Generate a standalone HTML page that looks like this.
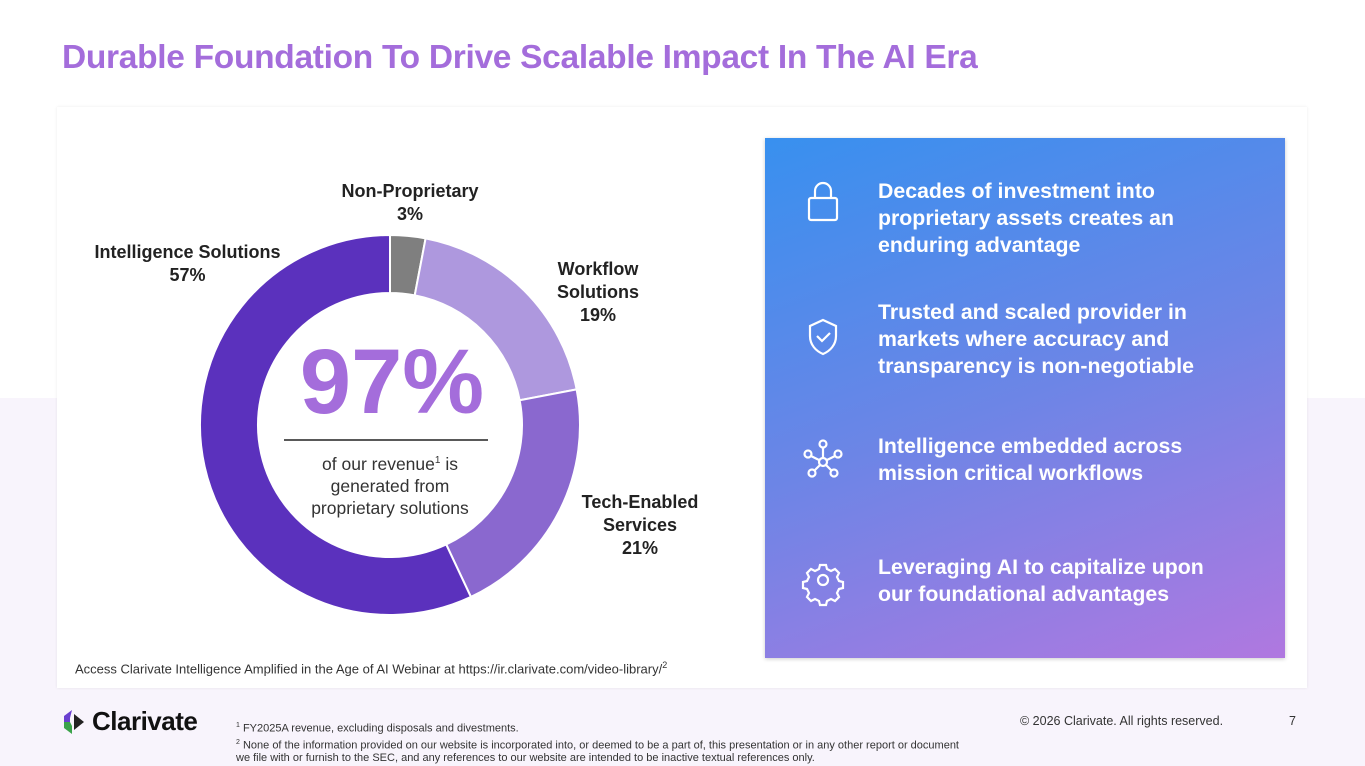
<!DOCTYPE html>
<html><head><meta charset="utf-8">
<style>
*{margin:0;padding:0;box-sizing:border-box}
body{width:1365px;height:766px;position:relative;overflow:hidden;font-family:"Liberation Sans",sans-serif;background:#fff}
.abs{position:absolute}
.bg2{left:0;top:398px;width:1365px;height:368px;background:#f8f4fc}
.title{left:62px;top:39px;font-size:33.5px;font-weight:bold;color:#a46ddb;letter-spacing:-0.3px}
.card{left:57px;top:107px;width:1250px;height:581px;background:#fff;box-shadow:0 0 3px rgba(0,0,0,0.08)}
.lbl{font-weight:bold;font-size:18px;color:#222;text-align:center;line-height:23px}
.panel{left:765px;top:138px;width:520px;height:520px;background:linear-gradient(160deg,#3890ef 0%,#6d85e6 50%,#b078e0 100%);box-shadow:0 1px 4px rgba(0,0,0,0.2)}
.pt{left:878px;color:#fff;font-size:21.3px;font-weight:bold;line-height:27px}
.foot{font-size:11px;color:#333;line-height:13px}
</style></head><body>
<div class="abs bg2"></div>
<div class="abs title">Durable Foundation To Drive Scalable Impact In The AI Era</div>
<div class="abs card"></div>

<svg class="abs" style="left:0;top:0" width="700" height="700">
<g id="slices"></g>
<line x1="284" y1="440" x2="488" y2="440" stroke="#222" stroke-width="1.5"/>
<text x="392" y="413" text-anchor="middle" font-size="92" font-weight="bold" fill="#a46ddb" font-family="Liberation Sans">97%</text>
<text x="390" y="470" text-anchor="middle" font-size="17.5" fill="#333" font-family="Liberation Sans">of our revenue<tspan font-size="10" dy="-7">1</tspan><tspan dy="7"> is</tspan></text>
<text x="390" y="492" text-anchor="middle" font-size="17.5" fill="#333" font-family="Liberation Sans">generated from</text>
<text x="390" y="514" text-anchor="middle" font-size="17.5" fill="#333" font-family="Liberation Sans">proprietary solutions</text>
</svg>
<div class="abs lbl" style="left:320px;top:180px;width:180px">Non-Proprietary<br>3%</div>
<div class="abs lbl" style="left:538px;top:258px;width:120px">Workflow<br>Solutions<br>19%</div>
<div class="abs lbl" style="left:565px;top:491px;width:150px">Tech-Enabled<br>Services<br>21%</div>
<div class="abs lbl" style="left:80px;top:241px;width:215px">Intelligence Solutions<br>57%</div>
<div class="abs" style="left:75px;top:660px;font-size:13px;color:#333">Access Clarivate Intelligence Amplified in the Age of AI Webinar at https://ir.clarivate.com/video-library/<sup style="font-size:9px">2</sup></div>

<div class="abs panel"></div>
<svg class="abs" style="left:795px;top:170px" width="60" height="440" fill="none" stroke="#fff" stroke-width="2.2">
<g><rect x="14" y="28" width="28" height="22" rx="2"/><path d="M20 28v-7a8 8 0 0 1 16 0v7"/></g>
<g><path d="M28 150l13 6v10c0 9-6 15-13 18c-7-3-13-9-13-18v-10z"/><path d="M22 166l5 5l8-8"/></g>
<g><circle cx="28" cy="292" r="4"/><circle cx="28" cy="274" r="3.5"/><circle cx="13" cy="284" r="3.5"/><circle cx="43" cy="284" r="3.5"/><circle cx="17" cy="303" r="3.5"/><circle cx="39" cy="303" r="3.5"/><path d="M28 278v10M16 286l8 4M40 286l-8 4M20 300l5-5M36 300l-5-5"/></g>
<g><circle cx="28" cy="410" r="5"/><path d="M25 395h6l1 4l4 2l4-2l4 4l-2 4l2 4l4 1v6l-4 1l-2 4l2 4l-4 4l-4-2l-4 2l-1 4h-6l-1-4l-4-2l-4 2l-4-4l2-4l-2-4l-4-1v-6l4-1l2-4l-2-4l4-4l4 2l4-2z"/></g>
</svg>
<div class="abs pt" style="top:178px">Decades of investment into<br>proprietary assets creates an<br>enduring advantage</div>
<div class="abs pt" style="top:299px">Trusted and scaled provider in<br>markets where accuracy and<br>transparency is non-negotiable</div>
<div class="abs pt" style="top:433px">Intelligence embedded across<br>mission critical workflows</div>
<div class="abs pt" style="top:554px">Leveraging AI to capitalize upon<br>our foundational advantages</div>

<svg class="abs" style="left:62px;top:708px" width="28" height="28">
<path d="M10 2l-8 6v6h6v-4z" fill="#6a3fd0"/><path d="M2 14v6l8 6v-8l-2-4z" fill="#3ba34a"/><path d="M12 6l10 8l-10 8z" fill="#222"/>
</svg>
<div class="abs" style="left:92px;top:706px;font-size:26px;font-weight:bold;color:#111;letter-spacing:-0.5px">Clarivate</div>
<div class="abs foot" style="left:236px;top:719px;width:735px"><sup style="font-size:7px">1</sup> FY2025A revenue, excluding disposals and divestments.<br><sup style="font-size:7px">2</sup> None of the information provided on our website is incorporated into, or deemed to be a part of, this presentation or in any other report or document we file with or furnish to the SEC, and any references to our website are intended to be inactive textual references only.</div>
<div class="abs" style="left:1020px;top:714px;font-size:12.5px;color:#333">© 2026 Clarivate. All rights reserved.</div>
<div class="abs" style="left:1289px;top:714px;font-size:12.5px;color:#333">7</div>

<script>
const categories = ["Non-Proprietary","Workflow Solutions","Tech-Enabled Services","Intelligence Solutions"];
const values = [3, 19, 21, 57];
const colors = ["#7f7f7f","#ae98de","#8a68cf","#5b31bd"];
const cx=390, cy=425, R=190, r=132;
const g=document.getElementById('slices');
const total=values.reduce((a,b)=>a+b,0);
let acc=0;
function pt(rad,a){return [cx+rad*Math.sin(a), cy-rad*Math.cos(a)];}
values.forEach((v,i)=>{
  const a0=acc/total*2*Math.PI; acc+=v; const a1=acc/total*2*Math.PI;
  const large=(a1-a0)>Math.PI?1:0;
  const [x0,y0]=pt(R,a0),[x1,y1]=pt(R,a1),[x2,y2]=pt(r,a1),[x3,y3]=pt(r,a0);
  const p=document.createElementNS('http://www.w3.org/2000/svg','path');
  p.setAttribute('d',`M${x0} ${y0}A${R} ${R} 0 ${large} 1 ${x1} ${y1}L${x2} ${y2}A${r} ${r} 0 ${large} 0 ${x3} ${y3}Z`);
  p.setAttribute('fill',colors[i]);
  p.setAttribute('stroke','#fff');
  p.setAttribute('stroke-width','2');
  
  
  g.appendChild(p);
});
</script>
</body></html>
